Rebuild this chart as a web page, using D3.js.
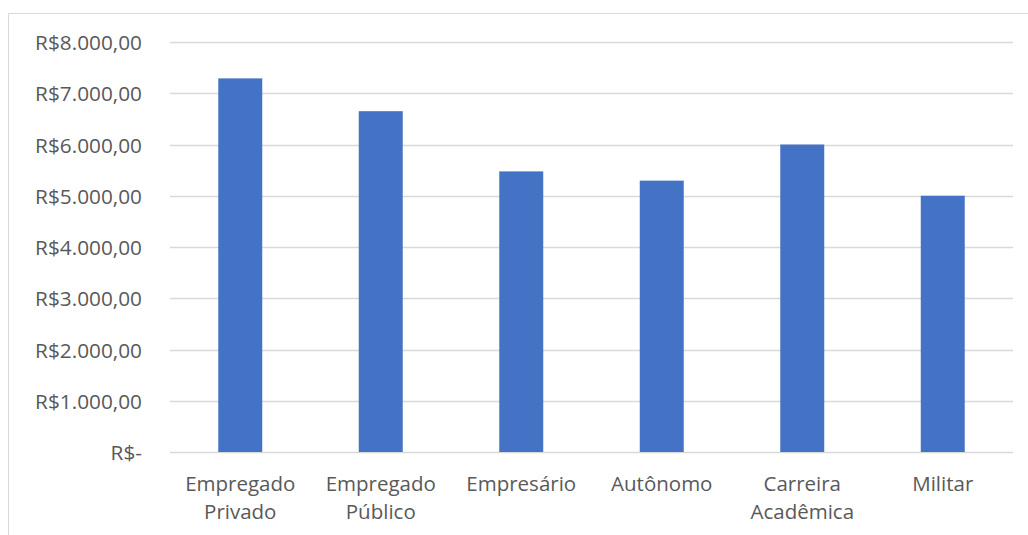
<!DOCTYPE html>
<html>
<head>
<meta charset="utf-8">
<script src="https://cdn.jsdelivr.net/npm/d3@7/dist/d3.min.js"></script>
<style>
  html, body { margin: 0; padding: 0; background: #fff; }
  svg text { font-family: "Open Sans", "Noto Sans", sans-serif; fill: #595959; }
</style>
</head>
<body>
<svg id="chart" width="1028" height="535"></svg>
<script>
// Average income by career path (R$)
const categories = [["Empregado", "Privado"], ["Empregado", "Público"], ["Empresário"], ["Autônomo"], ["Carreira", "Acadêmica"], ["Militar"]];
const values = [7290, 6650, 5475, 5295, 6000, 5000];
const yTicks = [0, 1000, 2000, 3000, 4000, 5000, 6000, 7000, 8000];

const svg = d3.select("#chart");
const plot = { left: 170, right: 1013, top: 42, bottom: 452 };

// outer chart frame
svg.append("rect")
  .attr("x", 8.5).attr("y", 13.5)
  .attr("width", 1040).attr("height", 540)
  .attr("fill", "none").attr("stroke", "#d9d9d9").attr("stroke-width", 1);

const x = d3.scaleBand()
  .domain(d3.range(categories.length))
  .range([plot.left, plot.right])
  .paddingInner(0.687).paddingOuter(0.3435);

const y = d3.scaleLinear().domain([0, 8000]).range([plot.bottom, plot.top]);

const fmt = v => v === 0 ? "R$-" : "R$" + d3.format(",.2f")(v).replace(/,/g, "#").replace(".", ",").replace(/#/g, ".");

// horizontal gridlines
svg.append("g").selectAll("line").data(yTicks).join("line")
  .attr("x1", plot.left).attr("x2", plot.right)
  .attr("y1", d => Math.round(y(d)) + 0.5).attr("y2", d => Math.round(y(d)) + 0.5)
  .attr("stroke", "#d9d9d9").attr("stroke-width", 1.3);

// y-axis labels
const yAxis = d3.axisLeft(y).tickValues(yTicks).tickFormat(fmt).tickSize(0).tickPadding(0);
const gy = svg.append("g").attr("transform", `translate(142,0)`).call(yAxis);
gy.select(".domain").remove();
gy.selectAll("text").attr("font-size", 20.8).attr("dy", "0.36em")
  .style("font-family", "'Open Sans', sans-serif").attr("fill", "#595959");

// bars
svg.append("g").selectAll("rect").data(values).join("rect")
  .attr("x", (d, i) => x(i))
  .attr("y", d => y(d))
  .attr("width", x.bandwidth())
  .attr("height", d => y(0) - y(d))
  .attr("fill", "#4472c4");

// category labels
const xl = svg.append("g").selectAll("text").data(categories).join("text")
  .attr("x", (d, i) => x(i) + x.bandwidth() / 2)
  .attr("y", 491)
  .attr("text-anchor", "middle")
  .attr("font-size", 20.5);
xl.selectAll("tspan").data(d => d).join("tspan")
  .attr("x", function () { return d3.select(this.parentNode).attr("x"); })
  .attr("dy", (d, i) => i === 0 ? 0 : 28)
  .text(d => d);
</script>
</body>
</html>
